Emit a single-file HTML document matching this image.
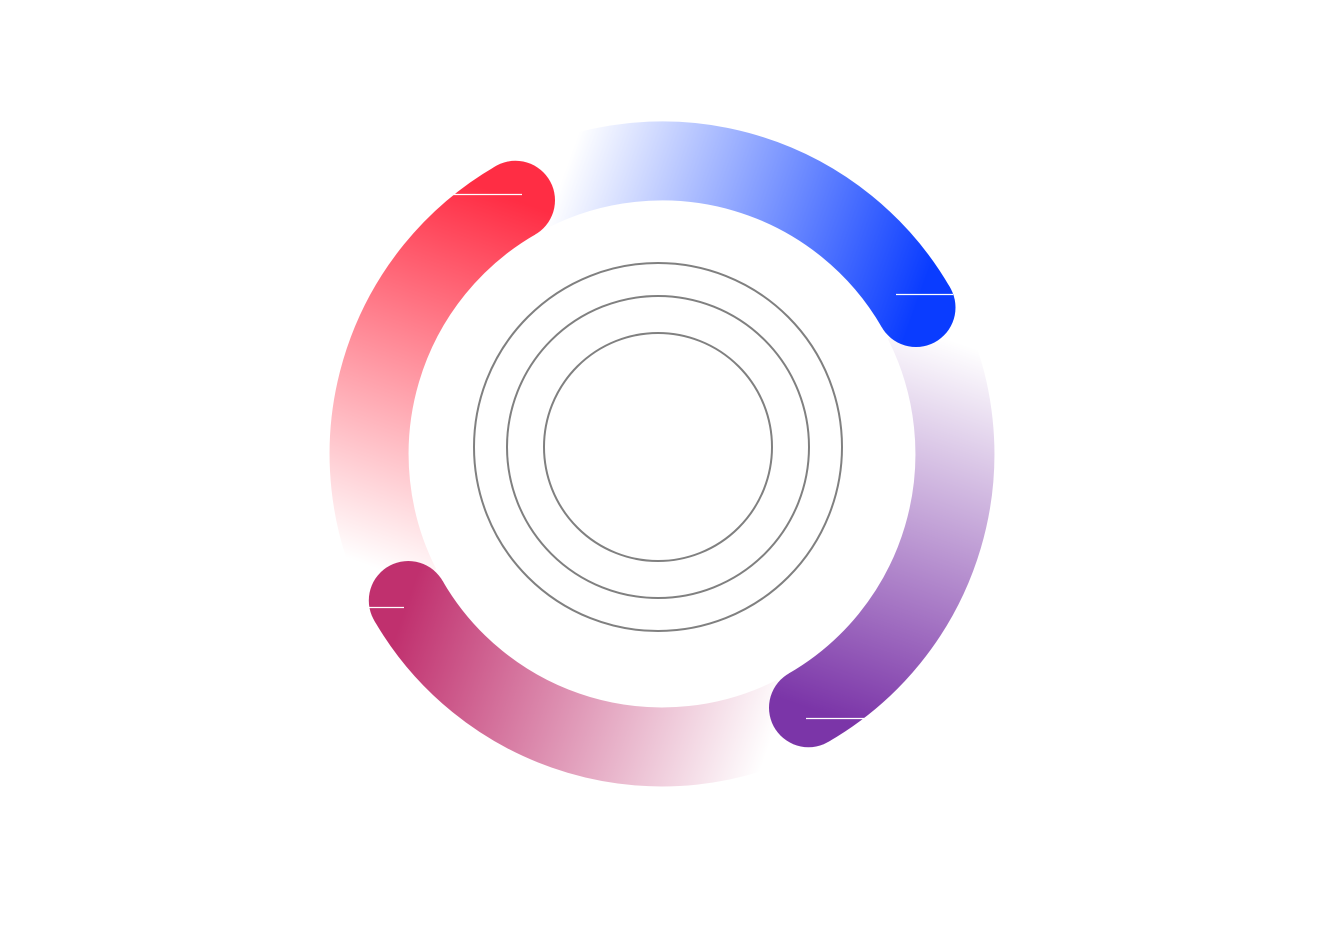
<!DOCTYPE html>
<html><head><style>html,body{margin:0;padding:0;background:#fff}svg{display:block}</style></head>
<body>
<svg width="1320" height="943" viewBox="0 0 1320 943" xmlns="http://www.w3.org/2000/svg">
<defs>
<linearGradient id="gb" gradientUnits="userSpaceOnUse" x1="562" y1="179" x2="916" y2="307">
<stop offset="0" stop-color="#ffffff"/><stop offset="1" stop-color="#0a3cff"/></linearGradient>
<linearGradient id="gr" gradientUnits="userSpaceOnUse" x1="380" y1="570" x2="515" y2="200">
<stop offset="0" stop-color="#ffffff"/><stop offset="1" stop-color="#ff2d44"/></linearGradient>
<linearGradient id="gm" gradientUnits="userSpaceOnUse" x1="775" y1="730" x2="408" y2="600">
<stop offset="0" stop-color="#ffffff"/><stop offset="1" stop-color="#c0306e"/></linearGradient>
<linearGradient id="gp" gradientUnits="userSpaceOnUse" x1="935" y1="335" x2="808" y2="708">
<stop offset="0" stop-color="#ffffff"/><stop offset="1" stop-color="#7b35a8"/></linearGradient>
</defs>
<g fill="none" stroke-width="79" stroke-linecap="butt">
<path d="M923 321 A293 293 0 0 1 808.5 707.7" stroke="url(#gp)"/>
<path d="M795 715 A293 293 0 0 1 408.3 600.5" stroke="url(#gm)"/>
<path d="M401 587 A293 293 0 0 1 515.5 200.3" stroke="url(#gr)"/>
<path d="M529 193 A293 293 0 0 1 916 307.5" stroke="url(#gb)"/>
</g>
<circle cx="808.5" cy="707.7" r="39.5" fill="url(#gp)"/>
<circle cx="408.3" cy="600.5" r="39.5" fill="url(#gm)"/>
<circle cx="515.5" cy="200.3" r="39.5" fill="url(#gr)"/>
<circle cx="916" cy="307.5" r="39.5" fill="url(#gb)"/>
<g stroke="#fff" stroke-width="1.2">
<line x1="896" y1="294.5" x2="953" y2="294.5"/>
<line x1="453" y1="194.5" x2="522" y2="194.5"/>
<line x1="369" y1="607.5" x2="404" y2="607.5"/>
<line x1="806" y1="718.5" x2="866" y2="718.5"/>
</g>
<g fill="none" stroke="#808080" stroke-width="2">
<circle cx="658" cy="447" r="184"/>
<circle cx="658" cy="447" r="151"/>
<circle cx="658" cy="447" r="114"/>
</g>
</svg>
</body></html>
